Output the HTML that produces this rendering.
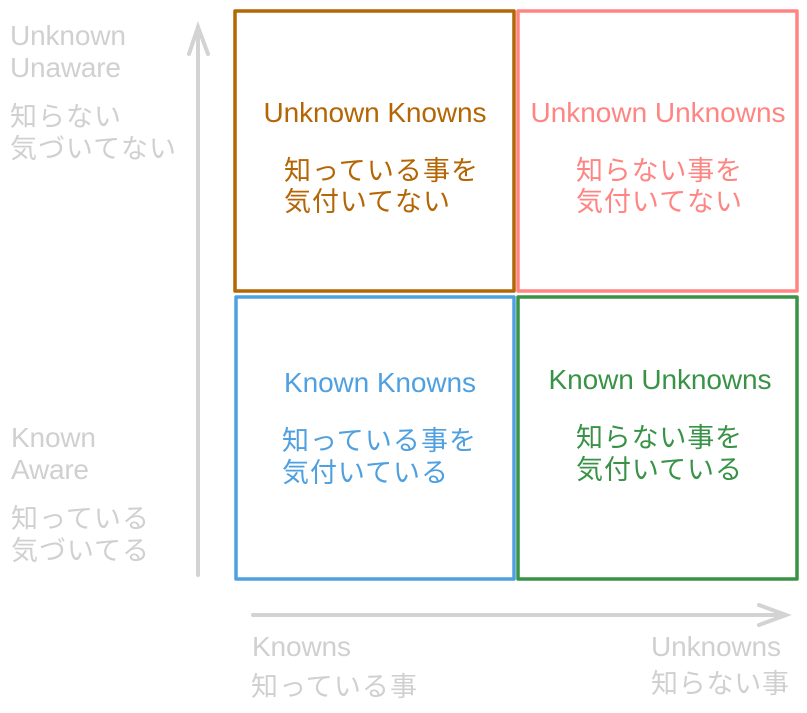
<!DOCTYPE html>
<html><head><meta charset="utf-8"><style>html,body{margin:0;padding:0;background:#fff}svg{display:block}text{font-family:"Liberation Sans","Noto Sans CJK JP",sans-serif;font-size:27px}.l{font-size:28px}</style></head><body>
<svg width="807" height="713" viewBox="0 0 807 713" xmlns="http://www.w3.org/2000/svg">
<g fill="none" stroke-width="3.5" stroke-linejoin="round">
<rect x="235" y="11" width="279" height="280" stroke="#b46504"/>
<rect x="518" y="11" width="279" height="280" stroke="#ff8583"/>
<rect x="236" y="297" width="278" height="282" stroke="#4fa0e0"/>
<rect x="518" y="297" width="279" height="282" stroke="#399347"/>
</g>
<g stroke="#d3d3d3" stroke-width="4" fill="none" stroke-linecap="round">
<line x1="198" y1="575" x2="198" y2="27"/>
<polyline points="189,54 198,27 208,54"/>
<line x1="253" y1="615" x2="786" y2="615"/>
<polyline points="759,605 786,615 759,625"/>
</g>
<g fill="#b46504"><text class="l" x="375" y="122" text-anchor="middle" textLength="223">Unknown Knowns</text>
<text x="284" y="180" textLength="194">知っている事を</text><text x="284" y="211" textLength="166">気付いてない</text></g>
<g fill="#ff8583"><text class="l" x="658" y="122" text-anchor="middle" textLength="255">Unknown Unknowns</text>
<text x="576" y="180" textLength="166">知らない事を</text><text x="576" y="211" textLength="166">気付いてない</text></g>
<g fill="#4fa0e0"><text class="l" x="380" y="392" text-anchor="middle" textLength="192">Known Knowns</text>
<text x="282" y="450" textLength="194">知っている事を</text><text x="282" y="482" textLength="166">気付いている</text></g>
<g fill="#399347"><text class="l" x="660" y="389" text-anchor="middle" textLength="223">Known Unknowns</text>
<text x="576" y="447" textLength="166">知らない事を</text><text x="576" y="479" textLength="166">気付いている</text></g>
<g fill="#d0d0d0">
<text class="l" x="10" y="45" textLength="116">Unknown</text><text class="l" x="10" y="77" textLength="111">Unaware</text>
<text x="10" y="126" textLength="111">知らない</text><text x="10" y="158" textLength="166">気づいてない</text>
<text class="l" x="11" y="447" textLength="85">Known</text><text class="l" x="11" y="479" textLength="78">Aware</text>
<text x="11" y="528" textLength="138">知っている</text><text x="11" y="560" textLength="138">気づいてる</text>
<text class="l" x="252" y="656" textLength="99">Knowns</text><text x="251" y="696" textLength="166">知っている事</text>
<text class="l" x="651" y="656" textLength="130">Unknowns</text><text x="651" y="693" textLength="138">知らない事</text>
</g>
</svg>
</body></html>
